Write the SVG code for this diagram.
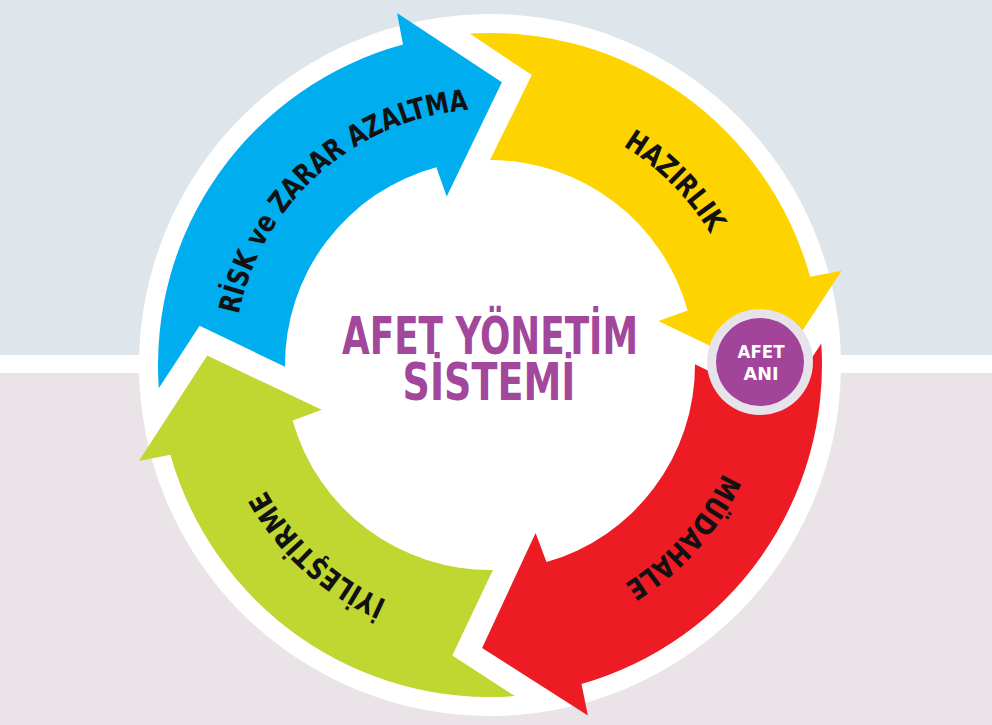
<svg xmlns="http://www.w3.org/2000/svg" width="992" height="725" viewBox="0 0 992 725">
<defs>
<style>
.lbl{font-family:"DejaVu Sans Condensed","DejaVu Sans","Liberation Sans",sans-serif;font-stretch:condensed;font-weight:bold;font-size:29px;fill:#111}
.title{font-family:"DejaVu Sans Condensed","DejaVu Sans","Liberation Sans",sans-serif;font-stretch:condensed;font-weight:bold;font-size:51px;fill:#a2479c}
.ani{font-family:"DejaVu Sans Condensed","DejaVu Sans","Liberation Sans",sans-serif;font-stretch:condensed;font-weight:bold;font-size:18px;fill:#ffffff}
</style>
<path id="ring" d="M 490,622 A 256 256 0 1 1 490,109 A 256 256 0 1 1 490,622"/>
</defs>
<rect x="0" y="0" width="992" height="355" fill="#dee6eb"/>
<rect x="0" y="355" width="992" height="18" fill="#ffffff"/>
<rect x="0" y="373" width="992" height="352" fill="#eae3e8"/>
<circle cx="490" cy="365" r="351" fill="#ffffff"/>
<g id="connectors"></g>
<g id="risk">
<path d="M 158.8,388.2 A 332 332 0 0 1 403.0,44.6 L 397.0,13.1 L 501.9,82.2 L 446.7,196.5 L 436.3,167.2 A 205 205 0 0 0 285.0,366.8 L 199.6,325.7 Z" fill="#00aeef"/>
<text class="lbl"><textPath href="#ring" startOffset="454" textLength="330" lengthAdjust="spacingAndGlyphs">RİSK ve ZARAR AZALTMA</textPath></text>
</g>
<g id="hazirlik">
<path d="M 469.7,33.6 A 332 332 0 0 1 810.1,276.8 L 841.6,270.8 L 772.8,375.9 L 658.4,321.1 L 687.6,310.6 A 205 205 0 0 0 490,160 L 531.8,75.0 Z" fill="#fed400"/>
<text class="lbl"><textPath href="#ring" startOffset="945" textLength="125" lengthAdjust="spacingAndGlyphs">HAZIRLIK</textPath></text>
</g>
<g id="mudahale">
<path d="M 821.3,343.6 A 332 332 0 0 1 581.5,684.1 L 587.9,715.6 L 482.1,647.9 L 535.6,532.9 L 546.5,562.1 A 205 205 0 0 0 695.0,364.3 L 780.2,405.8 Z" fill="#ed1c24"/>
<text class="lbl"><textPath href="#ring" startOffset="1319" textLength="151" lengthAdjust="spacingAndGlyphs">MÜDAHALE</textPath></text>
</g>
<g id="iyilestirme">
<path d="M 514.9,696.1 A 332 332 0 0 1 170.4,454.8 L 138.9,461.0 L 207.2,355.6 L 321.8,409.7 L 292.6,420.5 A 205 205 0 0 0 492.9,570.0 L 452.3,655.6 Z" fill="#bfd730"/>
<text class="lbl"><textPath href="#ring" startOffset="106" textLength="167" lengthAdjust="spacingAndGlyphs">İYİLEŞTİRME</textPath></text>
</g>
<g id="afet-ani">
<circle cx="760" cy="362" r="53" fill="#e6e4ea"/>
<circle cx="760" cy="362" r="44" fill="#a3449b"/>
<text class="ani" x="761" y="358" text-anchor="middle" textLength="47" lengthAdjust="spacingAndGlyphs">AFET</text>
<text class="ani" x="761" y="380" text-anchor="middle" textLength="35" lengthAdjust="spacingAndGlyphs">ANI</text>
</g>
<g id="title">
<text class="title" x="490" y="354" text-anchor="middle" textLength="296" lengthAdjust="spacingAndGlyphs">AFET YÖNETİM</text>
<text class="title" x="489" y="400" text-anchor="middle" textLength="173" lengthAdjust="spacingAndGlyphs">SİSTEMİ</text>
</g>
</svg>
